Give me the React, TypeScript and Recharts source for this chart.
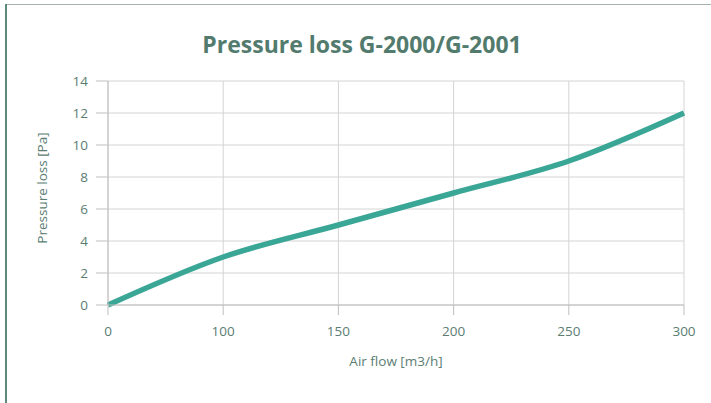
import React from 'react';
import { LineChart, Line, XAxis, YAxis, CartesianGrid } from 'recharts';

const airFlow = ['0', '100', '150', '200', '250', '300'];
const pressureLoss = [0, 3, 5, 7, 9, 12];
const yTicks = [0, 2, 4, 6, 8, 10, 12, 14];

const data = airFlow.map((x, i) => ({ x, y: pressureLoss[i] }));

const TEXT = '#5B7D72';
const FONT = '"Open Sans", sans-serif';

export default function App() {
  return (
    <div style={{ position: 'absolute', left: 0, top: 0, width: 711, height: 403, background: '#fff', overflow: 'hidden' }}>
      <div style={{ position: 'absolute', left: 5, top: 4, right: 0, height: 0, borderTop: '1.5px solid #A3B4AC' }} />
      <div style={{ position: 'absolute', left: 5, top: 4, bottom: 0, width: 0, borderLeft: '2px solid #5E8A7A' }} />
      <div
        style={{
          position: 'absolute',
          left: 162,
          width: 400,
          top: 29,
          textAlign: 'center',
          fontFamily: FONT,
          fontWeight: 700,
          fontSize: 23,
          color: '#527B6D',
          lineHeight: '30px',
        }}
      >
        Pressure loss G-2000/G-2001
      </div>
      <LineChart
        width={711}
        height={403}
        data={data}
        margin={{ top: 81, right: 27, left: 0, bottom: 0 }}
        style={{ position: 'absolute', left: 0, top: 0 }}
      >
        <CartesianGrid stroke="#D4D4D4" strokeWidth={1} vertical horizontal />
        <XAxis
          dataKey="x"
          type="category"
          height={98}
          tickSize={10}
          tickMargin={11}
          stroke="#BFBFBF"
          tick={{ fill: TEXT, fontSize: 13.5, fontFamily: FONT }}
          label={{ value: 'Air flow [m3/h]', position: 'insideBottom', offset: 37, fill: TEXT, fontSize: 13.5, fontFamily: FONT }}
        />
        <YAxis
          type="number"
          domain={[0, 14]}
          ticks={yTicks}
          width={108}
          tickSize={12}
          tickMargin={8}
          stroke="#BFBFBF"
          tick={{ fill: TEXT, fontSize: 13.5, fontFamily: FONT }}
          label={{
            content: () => (
              <text
                x={42}
                y={188}
                transform="rotate(-90 42 188)"
                textAnchor="middle"
                dominantBaseline="central"
                fill={TEXT}
                fontSize={13.5}
                fontFamily={FONT}
              >
                Pressure loss [Pa]
              </text>
            ),
          }}
        />
        <Line
          type="monotone"
          dataKey="y"
          stroke="#3AA696"
          strokeWidth={5.5}
          dot={false}
          activeDot={false}
          isAnimationActive={false}
        />
      </LineChart>
    </div>
  );
}
